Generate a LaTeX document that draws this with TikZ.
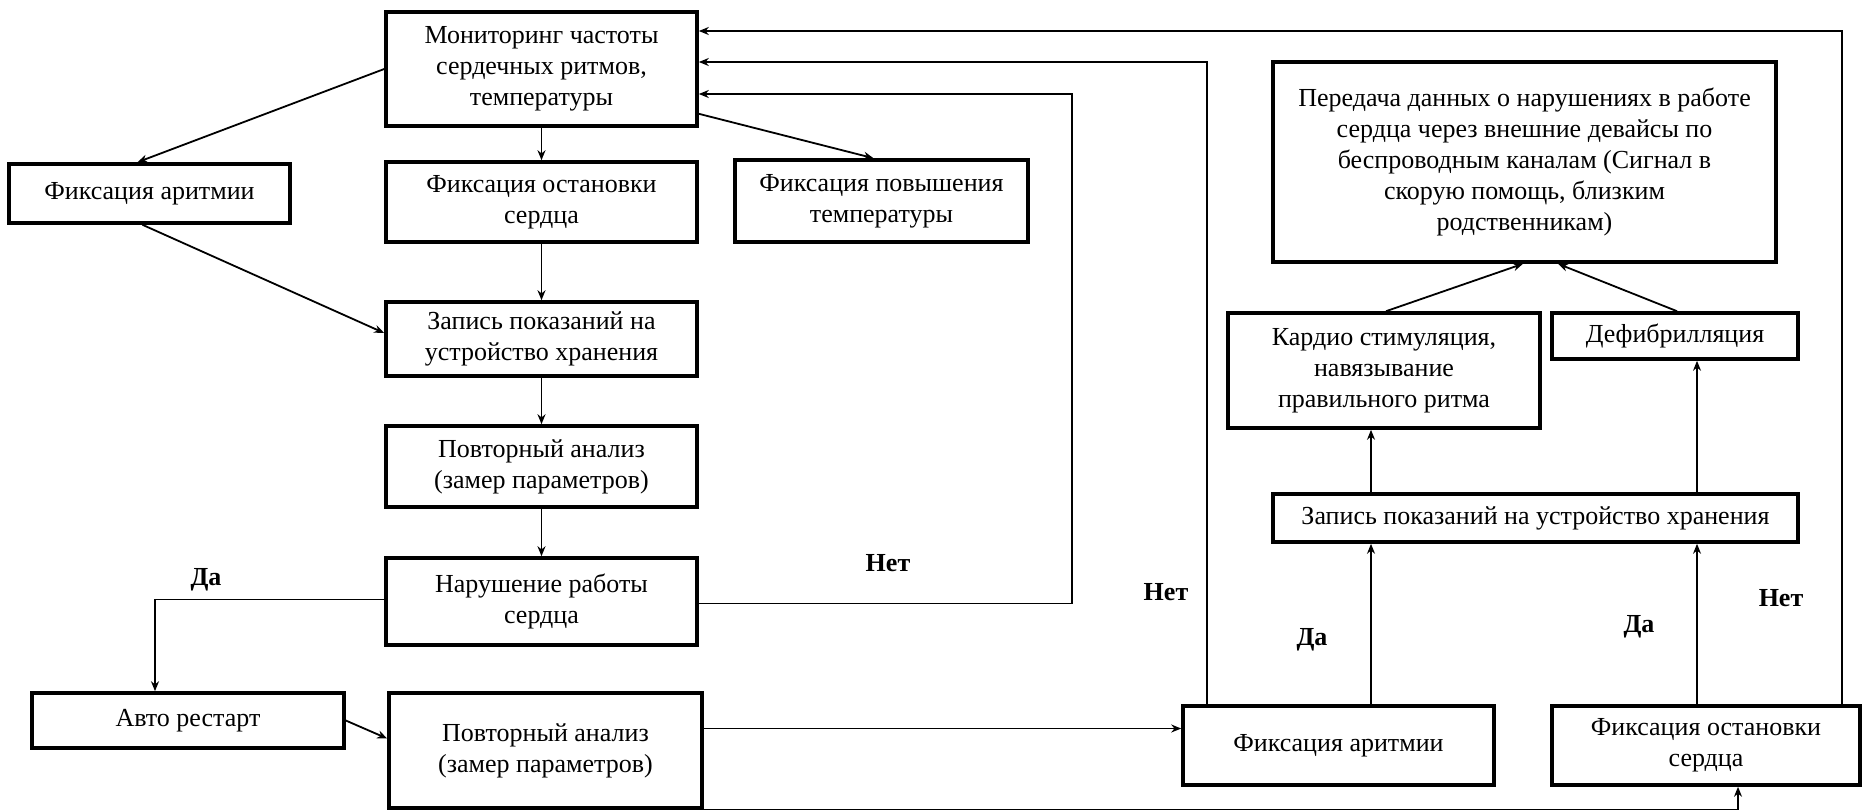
\documentclass[tikz,border=0pt]{standalone}
\usepackage{fontspec}
\setmainfont{Liberation Serif}
\newfontfamily\tnr{Liberation Serif}
\usetikzlibrary{positioning,calc,arrows.meta}

\begin{document}
\begin{tikzpicture}[x=0.5pt,y=-0.5pt,line width=0.9pt,
    blk/.style={draw,line width=1.8pt,align=center,inner sep=2pt,font=\tnr\fontsize{13}{15.5}\selectfont},
    lbl/.style={font=\tnr\fontsize{13}{15}\selectfont\bfseries},
    >={Stealth[length=5pt,width=4pt]}]
    \useasboundingbox (0,0) rectangle (1862,809);

    \node[blk,minimum width=155.5pt,minimum height=57pt] (mon) at (541.5,69) {Мониторинг частоты\\сердечных ритмов,\\температуры};
    \node[blk,minimum width=140.5pt,minimum height=29.5pt] (fixar) at (149.5,193.5) {Фиксация аритмии};
    \node[blk,minimum width=155.5pt,minimum height=40pt] (fixst) at (541.5,202) {Фиксация остановки\\сердца};
    \node[blk,minimum width=146.5pt,minimum height=41pt] (fixtemp) at (881.5,201) {Фиксация повышения\\температуры};
    \node[blk,minimum width=155.5pt,minimum height=37pt] (zap) at (541.5,339) {Запись показаний на\\устройство хранения};
    \node[blk,minimum width=155.5pt,minimum height=40.5pt] (povt) at (541.5,466.5) {Повторный анализ\\(замер параметров)};
    \node[blk,minimum width=155.5pt,minimum height=43.5pt] (nar) at (541.5,601.5) {Нарушение работы\\сердца};
    \node[blk,minimum width=156pt,minimum height=27.5pt] (avto) at (188,720.5) {Авто рестарт};
    \node[blk,minimum width=156.5pt,minimum height=57.5pt] (povtb) at (545.5,750.5) {Повторный анализ\\(замер параметров)};
    \node[blk,minimum width=155.5pt,minimum height=39.5pt] (fixarb) at (1338.5,745.5) {Фиксация аритмии};
    \node[blk,minimum width=154pt,minimum height=39.5pt] (fixstb) at (1706,745.5) {Фиксация остановки\\сердца};
    \node[blk,minimum width=262.5pt,minimum height=24pt] (zapb) at (1535.5,518) {Запись показаний на устройство хранения};
    \node[blk,minimum width=156pt,minimum height=57.5pt] (kard) at (1384,370.5) {Кардио стимуляция,\\навязывание\\правильного ритма};
    \node[blk,minimum width=123pt,minimum height=23pt] (defib) at (1675,336) {Дефибрилляция};
    \node[blk,minimum width=251.5pt,minimum height=100pt] (pered) at (1524.5,162) {Передача данных о нарушениях в работе\\сердца через внешние девайсы по\\беспроводным каналам (Сигнал в\\скорую помощь, близким\\родственникам)};

    \node[lbl] (da1) at (206,580) {Да};
    \node[lbl] (net1) at (888,563) {Нет};
    \node[lbl] (net2) at (1166,592) {Нет};
    \node[lbl] (da2) at (1312,640) {Да};
    \node[lbl] (da3) at (1639,627) {Да};
    \node[lbl] (net3) at (1781,598) {Нет};

    \draw[->] (mon.west) -- ($(fixar.north)+(-12,0)$);
    \draw[->] ($(fixar.south)+(-7,0)$) -- ($(zap.west)+(0,-6)$);
    \draw[->] (mon) -- (fixst);
    \draw[->] ($(mon.south east)+(0,-14)$) -- ($(fixtemp.north)+(-8,0)$);
    \draw[->] (fixst) -- (zap);
    \draw[->] (zap) -- (povt);
    \draw[->] (povt) -- (nar);
    \draw[->] ($(nar.west)+(0,-2)$) -| ($(avto.north)+(-33,0)$);
    \draw[->] ($(nar.east)+(0,2)$) -- ++(373,0) |- ($(mon.east)+(0,25)$);
    \draw[->] (avto.east) -- ($(povtb.west)+(0,-12)$);
    \draw[->] ($(povtb.east)+(0,-22)$) coordinate (pa) -- (pa -| fixarb.west);
    \draw[->] (povtb.south east) -| ($(fixstb.south)+(32,0)$);
    \draw[->] ($(fixarb.north west)+(26,0)$) |- ($(mon.east)+(0,-7)$);
    \draw[->] ($(fixarb.north)+(32.5,0)$) coordinate (pb) -- (pb |- zapb.south);
    \draw[->] (pb |- zapb.north) -- (pb |- kard.south);
    \draw[->] ($(fixstb.north)+(-9,0)$) coordinate (pc) -- (pc |- zapb.south);
    \draw[->] (pc |- zapb.north) -- (pc |- defib.south);
    \draw[->] ($(fixstb.north east)+(-20,0)$) |- ($(mon.east)+(0,-38)$);
    \draw[->] ($(kard.north)+(2,0)$) -- ($(pered.south)+(-1.5,0)$);
    \draw[->] ($(defib.north)+(2,0)$) -- ($(pered.south)+(33.5,0)$);
\end{tikzpicture}
\end{document}
